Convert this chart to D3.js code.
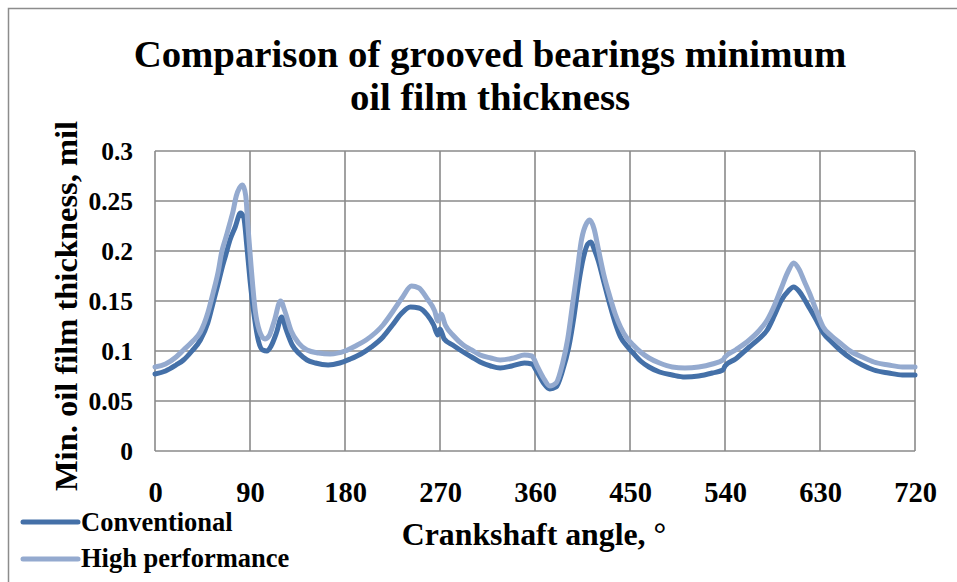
<!DOCTYPE html>
<html>
<head>
<meta charset="utf-8">
<script src="https://cdn.jsdelivr.net/npm/d3@7"></script>
<style>
  html, body { margin: 0; padding: 0; background: #fff; }
  svg { display: block; }
  text { font-family: "Liberation Serif", "Times New Roman", serif; font-weight: bold; fill: #000; }
</style>
</head>
<body>
<svg id="chart" width="957" height="582"></svg>
<script>
// ---- Data ----
const titleLines = ["Comparison of grooved bearings minimum", "oil film thickness"];
const xAxisTitle = "Crankshaft angle, \u00B0";
const yAxisTitle = "Min. oil film thickness, mil";
const seriesNames = ["Conventional", "High performance"];
const xTicks = [0, 90, 180, 270, 360, 450, 540, 630, 720];
const yTicks = [0, 0.05, 0.1, 0.15, 0.2, 0.25, 0.3];
const yTickLabels = ["0", "0.05", "0.1", "0.15", "0.2", "0.25", "0.3"];

const convAngles = [0,10,20,27,35,43,50,55,60,63,67,71,76,81,84,87,90,94,98,102,106,110,115,120,124,130,137,144,152,164,175,185,195,205,216,225,233,242,250,258,264,268,270,274,282,292,300,308,318,327,338,350,357,362,368,374,380,386,392,397,401,406,410,413,416,420,425,431,436,441,447,453,460,468,478,490,502,515,528,538,540,550,563,572,580,587,593,600,605,610,615,620,627,633,641,649,660,670,681,695,708,720];
const convValues = [0.077,0.080,0.086,0.091,0.100,0.111,0.128,0.148,0.168,0.181,0.196,0.211,0.224,0.238,0.234,0.205,0.171,0.135,0.110,0.101,0.100,0.105,0.118,0.134,0.122,0.106,0.097,0.091,0.088,0.086,0.088,0.092,0.097,0.104,0.114,0.126,0.137,0.144,0.143,0.136,0.126,0.116,0.122,0.112,0.106,0.099,0.094,0.089,0.085,0.083,0.085,0.088,0.087,0.079,0.068,0.062,0.064,0.080,0.104,0.135,0.165,0.194,0.207,0.209,0.202,0.190,0.170,0.146,0.128,0.114,0.105,0.098,0.090,0.084,0.079,0.076,0.074,0.075,0.078,0.081,0.085,0.092,0.104,0.112,0.121,0.136,0.150,0.160,0.164,0.160,0.152,0.143,0.130,0.118,0.109,0.101,0.092,0.086,0.081,0.078,0.076,0.076];

const hpAngles = [0,10,20,27,35,43,50,55,60,63,67,71,74,77,80,83,86,88,91,95,99,104,108,113,119,123,129,136,144,155,166,180,190,200,216,225,234,243,250,258,265,268,271,275,283,292,300,308,318,327,340,350,357,362,368,374,380,386,391,396,400,404,409,412,416,420,425,431,436,441,447,453,460,468,478,490,502,515,528,538,540,550,563,572,580,587,593,600,605,610,615,620,627,633,641,649,660,670,681,695,708,720];
const hpValues = [0.084,0.087,0.094,0.101,0.109,0.119,0.138,0.158,0.180,0.198,0.213,0.228,0.240,0.255,0.263,0.266,0.255,0.225,0.185,0.140,0.120,0.112,0.115,0.130,0.150,0.140,0.120,0.108,0.101,0.098,0.097,0.100,0.105,0.111,0.126,0.139,0.153,0.165,0.163,0.152,0.140,0.130,0.137,0.126,0.115,0.106,0.101,0.096,0.093,0.091,0.093,0.096,0.095,0.085,0.073,0.065,0.068,0.087,0.112,0.150,0.180,0.211,0.228,0.231,0.222,0.202,0.177,0.154,0.137,0.124,0.113,0.106,0.099,0.093,0.088,0.084,0.083,0.084,0.087,0.091,0.094,0.101,0.111,0.120,0.131,0.146,0.162,0.180,0.188,0.182,0.170,0.158,0.139,0.124,0.115,0.108,0.099,0.094,0.089,0.086,0.084,0.084];

const seriesColors = ["#4470A8", "#94AACF"];

// ---- Chart ----
const svg = d3.select("#chart");
const W = 957, H = 582;
const plot = { left: 155, right: 915, top: 151, bottom: 451 };

// outer chart border
svg.append("rect").attr("x", 8.5).attr("y", 8.5).attr("width", W + 20).attr("height", H + 20)
  .attr("fill", "none").attr("stroke", "#8c8c8c").attr("stroke-width", 1.5);

const x = d3.scaleLinear().domain([0, 720]).range([plot.left, plot.right]);
const y = d3.scaleLinear().domain([0, 0.3]).range([plot.bottom, plot.top]);

// gridlines
const grid = svg.append("g");
grid.selectAll(".vg").data(xTicks).join("line")
  .attr("x1", d => x(d)).attr("x2", d => x(d))
  .attr("y1", plot.top).attr("y2", plot.bottom)
  .attr("stroke", "#8a8a8a").attr("stroke-width", 1.6);
grid.selectAll(".hg").data(yTicks).join("line")
  .attr("x1", plot.left).attr("x2", plot.right)
  .attr("y1", d => y(d)).attr("y2", d => y(d))
  .attr("stroke", "#8a8a8a").attr("stroke-width", 1.6);

// axes (labels only)
const xAxis = d3.axisBottom(x).tickValues(xTicks).tickSize(0).tickPadding(0).tickFormat(d3.format("d"));
const gx = svg.append("g").attr("transform", `translate(0,${plot.bottom})`).call(xAxis);
gx.select(".domain").remove();
gx.selectAll("text").attr("y", 51).attr("dy", null)
  .style("font-family", "'Liberation Serif', serif").style("font-weight", "bold").style("font-size", "28.5px").attr("fill", "#000");

const yAxis = d3.axisLeft(y).tickValues(yTicks).tickSize(0).tickPadding(0)
  .tickFormat((d, i) => yTickLabels[i]);
const gy = svg.append("g").attr("transform", `translate(${plot.left},0)`).call(yAxis);
gy.select(".domain").remove();
gy.selectAll("text").attr("x", -22).attr("dy", "0.33em")
  .style("font-family", "'Liberation Serif', serif").style("font-weight", "bold").style("font-size", "25.5px").attr("fill", "#000");

// series
const convData = convAngles.map((a, i) => ({ a, v: convValues[i] }));
const hpData = hpAngles.map((a, i) => ({ a, v: hpValues[i] }));
const line = d3.line().x(d => x(d.a)).y(d => y(d.v)).curve(d3.curveMonotoneX);

[convData, hpData].forEach((data, i) => {
  svg.append("path").datum(data)
    .attr("d", line)
    .attr("fill", "none")
    .attr("stroke", seriesColors[i])
    .attr("stroke-width", 5)
    .attr("stroke-linejoin", "round")
    .attr("stroke-linecap", "round");
});

// title
svg.append("text").attr("x", 490).attr("text-anchor", "middle").style("font-size", "38.8px")
  .selectAll("tspan").data(titleLines).join("tspan")
  .attr("x", 490).attr("y", (d, i) => 67 + i * 43).text(d => d);

// axis titles
svg.append("text").attr("x", 534).attr("y", 545).attr("text-anchor", "middle")
  .style("font-size", "31.8px").text(xAxisTitle);
svg.append("text").attr("transform", "translate(77,306) rotate(-90)").attr("text-anchor", "middle")
  .style("font-size", "32.5px").text(yAxisTitle);

// legend
const legY = [522, 559];
const legTextY = [531, 567];
seriesNames.forEach((name, i) => {
  svg.append("line").attr("x1", 23).attr("x2", 78).attr("y1", legY[i]).attr("y2", legY[i])
    .attr("stroke", seriesColors[i]).attr("stroke-width", 5).attr("stroke-linecap", "round");
  svg.append("text").attr("x", 81).attr("y", legTextY[i]).style("font-size", "26.5px").text(name);
});
</script>
</body>
</html>
